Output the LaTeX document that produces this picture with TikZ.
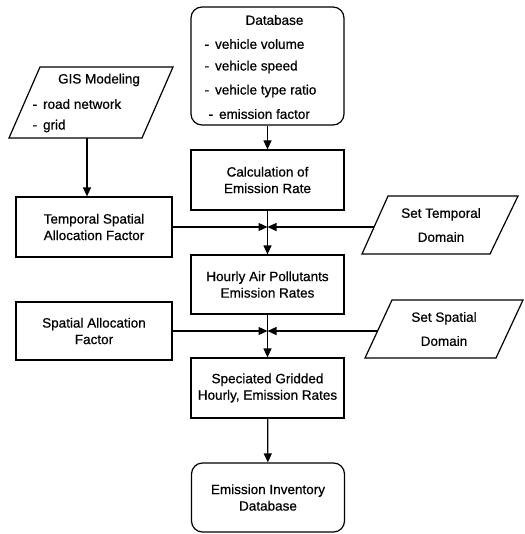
\documentclass[tikz,border=0pt]{standalone}
\usepackage{fontspec}
\setmainfont{Liberation Sans}[FakeBold=0.6]
\usetikzlibrary{arrows.meta}
\begin{document}
\begin{tikzpicture}[x=1pt,y=-1pt,
  font=\fontsize{13.5}{16.5}\selectfont,
  line width=1.2pt,
  box/.style={draw, rectangle, minimum width=153pt, minimum height=60pt, align=center, inner sep=0pt},
  rbox/.style={box, rounded corners=11pt},
  paratext/.style={align=center, inner sep=0pt, font=\fontsize{13.5}{24}\selectfont},
  arr/.style={-{Triangle[length=9pt,width=8pt]}},
  txt/.style={inner sep=0pt}
]
\useasboundingbox (0,0) rectangle (524,534);

% central column
\node[rbox, minimum height=118pt] (db) at (267.5,66) {};
\node[txt] (dbt) at (274.5,20) {Database};
\node[txt, anchor=west] (db1) at (204,44) {-\hspace{6pt}vehicle volume};
\node[txt, anchor=west] (db2) at (204,67) {-\hspace{6pt}vehicle speed};
\node[txt, anchor=west] (db3) at (204,91) {-\hspace{6pt}vehicle type ratio};
\node[txt, anchor=west] (db4) at (208,114) {-\hspace{6pt}emission factor};

\node[box] (calc) at (267.5,180) {Calculation of\\Emission Rate};
\node[box, minimum height=59pt] (hourly) at (267.5,284.5) {Hourly Air Pollutants\\Emission Rates};
\node[box] (spec) at (267.5,388) {Speciated Gridded\\Hourly, Emission Rates};
\node[rbox, minimum height=69pt] (inv) at (268,497.5) {Emission Inventory\\Database};

% left column
\draw (40,67) -- (173,67) -- (142,138) -- (9,138) -- cycle;
\coordinate (gisb) at (87,138);
\node[txt] (gist) at (99,80) {GIS Modeling};
\node[txt, anchor=west] (gis1) at (32,104) {-\hspace{6pt}road network};
\node[txt, anchor=west] (gis2) at (32,126) {-\hspace{6pt}grid};

\node[box, minimum width=156pt] (temp) at (94,227) {Temporal Spatial\\Allocation Factor};
\node[box, minimum width=156pt, minimum height=58pt] (spat) at (94,331) {Spatial Allocation\\Factor};

% right column
\draw (388,196) -- (518,196) -- (490,254) -- (362,254) -- cycle;
\node[paratext] (settemp) at (441,225) {Set Temporal\\Domain};
\coordinate (settempw) at (374,227);
\draw (392,300) -- (523,300) -- (496,358) -- (365,358) -- cycle;
\node[paratext] (setspat) at (444,329) {Set Spatial\\Domain};
\coordinate (setspatw) at (377.5,331);

% junctions
\coordinate (j1) at (267.5,227);
\coordinate (j2) at (267.5,331);

% connectors
\draw[arr] (db) -- (calc);
\draw[arr] (calc) -- (hourly);
\draw[arr] (hourly) -- (spec);
\draw[arr] (spec) -- (inv);
\draw[arr] (gisb) -- (gisb |- temp.north);
\draw[arr] (temp.east |- j1) -- (j1);
\draw[arr] (settempw) -- (j1);
\draw[arr] (spat.east |- j2) -- (j2);
\draw[arr] (setspatw) -- (j2);
\end{tikzpicture}
\end{document}
